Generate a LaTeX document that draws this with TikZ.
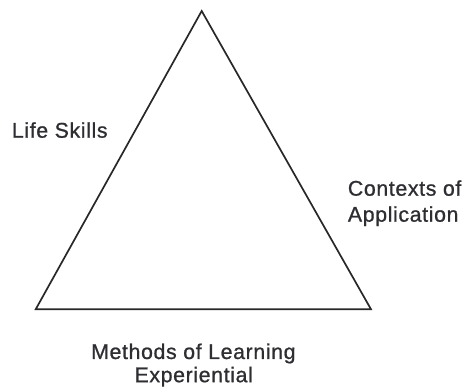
\documentclass[tikz,border=0pt]{standalone}
\usepackage{fontspec}
\setmainfont[LetterSpace=3,FakeBold=0.9]{Liberation Sans}
\definecolor{inkline}{RGB}{40,40,40}
\definecolor{inktext}{RGB}{45,45,50}
\begin{document}
\begin{tikzpicture}[x=1pt,y=1pt,
  lbl/.style={inner sep=0pt,text=inktext,font=\fontsize{21.3}{24}\selectfont},
  edge/.style={draw=inkline,line width=1.7pt,line join=miter}]
\useasboundingbox (0,0) rectangle (467,387);
\coordinate (A) at (201.7,376);
\coordinate (B) at (35.7,77.7);
\coordinate (C) at (371,77.7);
\draw[edge] (A) -- (B) -- (C) -- cycle;
\node[lbl,anchor=base west] (life) at (11.7,249.3) {Life Skills};
\node[lbl,anchor=base west] (ctx1) at (347.7,191.3) {Contexts of};
\node[lbl,anchor=base west] (ctx2) at (347.7,165.3) {Application};
\node[lbl,anchor=base] (meth1) at (193.4,28) {Methods of Learning};
\node[lbl,anchor=base] (meth2) at (193.7,4.8) {Experiential};
\end{tikzpicture}
\end{document}
